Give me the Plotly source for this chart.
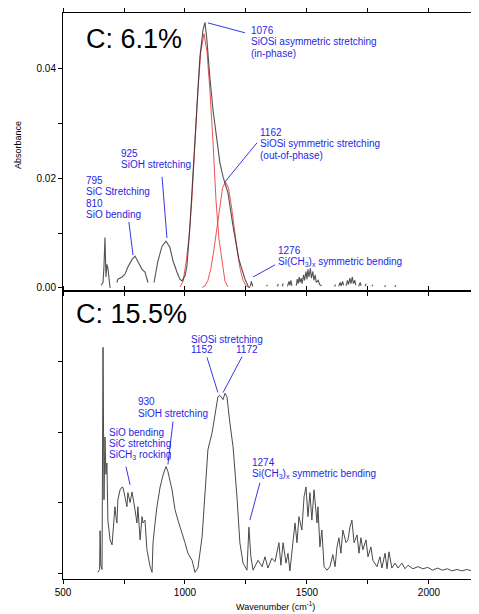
import plotly.graph_objects as go

# ---------------- DATA ----------------
# Top panel (C: 6.1 %) measured spectrum, wavenumber (cm-1) / absorbance; None = gap in trace
top_wn = [656, 664, 668, 672, 676, 680, 684, 690, 693, None,
          721, 725, 742, 754, 766, 783, 795, 807, 824, 836, 848, None,
          873, 889, 906, 922, 938, 951, 967, 979, 988, 1000, 1008, 1020, 1033, 1041, 1053, 1061, 1074,
          1082, 1090, 1094, 1102, 1115, 1131, 1143, 1156, 1176, 1197, 1221, 1246, 1258, 1266, None,
          1268, 1272, 1278, None,
          1334, 1338, None, 1378, 1383, None, 1398, 1403, None,
          1420, 1426, 1430, 1434, 1438, None,
          1456, 1460, 1464, 1468, 1472, 1476, 1480, 1486, 1490, 1496, 1500, 1504, 1508, 1514, 1518,
          1524, 1528, 1534, 1538, 1546, 1552, 1560, None,
          1612, 1618, None, 1630, 1636, 1640, 1646, 1650, None,
          1660, 1666, 1670, 1676, 1680, 1686, 1690, 1696, 1700, None,
          1712, 1718, 1722, None, 1738, 1742, None, 1766, 1770, None,
          1818, 1822, None, 1860, 1864]
top_abs = [0.0005, 0.001, 0.004, 0.0092, 0.002, 0.0043, 0.0036, 0.0008, 0.0, None,
           0.001, 0.0016, 0.002, 0.0025, 0.0038, 0.0052, 0.0058, 0.0049, 0.0034, 0.0029, 0.001, None,
           0.001, 0.0049, 0.0076, 0.0085, 0.0074, 0.0049, 0.0029, 0.0016, 0.0013, 0.0022, 0.004, 0.011,
           0.021, 0.027, 0.036, 0.042, 0.047,
           0.0483, 0.045, 0.042, 0.0383, 0.0323, 0.0264, 0.0228, 0.0202, 0.0173, 0.0112, 0.0052, 0.0016,
           0.0004, 0.0, None,
           0.0003, 0.0012, 0.0003, None,
           0.0003, 0.0006, None, 0.0003, 0.0007, None, 0.0003, 0.0008, None,
           0.0003, 0.0012, 0.0005, 0.0014, 0.0004, None,
           0.0004, 0.0016, 0.0008, 0.0020, 0.0010, 0.0018, 0.0008, 0.0024, 0.0014, 0.0030, 0.0016,
           0.0034, 0.0020, 0.0036, 0.0018, 0.0030, 0.0014, 0.0024, 0.0010, 0.0014, 0.0006, 0.0004, None,
           0.0003, 0.0006, None, 0.0003, 0.0010, 0.0004, 0.0012, 0.0005, None,
           0.0004, 0.0014, 0.0006, 0.0018, 0.0008, 0.0020, 0.0008, 0.0014, 0.0005, None,
           0.0003, 0.0010, 0.0004, None, 0.0003, 0.0008, None, 0.0003, 0.0006, None,
           0.0002, 0.0005, None, 0.0002, 0.0005]

# Fitted component at 1076 cm-1 (in-phase SiOSi)
fit1_wn = [980, 992, 1004, 1016, 1028, 1041, 1053, 1065, 1078, 1090, 1102, 1115, 1127, 1139, 1152, 1164, 1176]
fit1_abs = [0.0002, 0.0012, 0.0045, 0.009, 0.016, 0.0264, 0.036, 0.043, 0.0462, 0.043, 0.036, 0.0264,
            0.016, 0.009, 0.0045, 0.0012, 0.0002]

# Fitted component at 1162 cm-1 (out-of-phase SiOSi)
fit2_wn = [1070, 1082, 1094, 1106, 1118, 1130, 1142, 1154, 1166, 1178, 1190, 1202, 1214, 1226, 1238, 1250, 1262]
fit2_abs = [0.0001, 0.0004, 0.0014, 0.0035, 0.0068, 0.0108, 0.0150, 0.0182, 0.0193, 0.0182, 0.0150,
            0.0108, 0.0068, 0.0035, 0.0014, 0.0004, 0.0001]

# Bottom panel (C: 15.5 %) spectrum, arbitrary absorbance units
bot_wn = [643, 650, 652, 655, 660, 664, 668, 672, 676, 680, 684, 693, 701, 705, 713, 717, 721, 725,
          734, 742, 746, 754, 762, 766, 775, 783, 787, 795, 803, 807, 816, 824, 828, 836, 844, 852,
          857, 865, 869, 877, 885, 898, 910, 922, 930, 947, 959, 971, 988, 1000, 1012, 1029, 1041,
          1053, 1070, 1082, 1094, 1111, 1123, 1135, 1143, 1156, 1164, 1172, 1184, 1197, 1213, 1225,
          1238, 1254, 1262, 1270, 1279, 1299, 1316, 1328, 1340, 1356, 1369, 1385, 1393, 1402, 1414,
          1422, 1430, 1443, 1451, 1459, 1467, 1479, 1488, 1496, 1504, 1512, 1520, 1529, 1541, 1545,
          1553, 1561, 1570, 1582, 1594, 1606, 1615, 1623, 1631, 1639, 1647, 1660, 1668, 1676, 1684,
          1693, 1705, 1713, 1721, 1729, 1742, 1750, 1762, 1770, 1787, 1799, 1807, 1820, 1828, 1836,
          1848, 1861, 1873, 1889, 1902, 1914, 1934, 1955, 1975, 1995, 2015, 2035, 2055, 2075, 2095,
          2115, 2135, 2155, 2175, 2195, 2205]
bot_abs = [0.01, 0.05, 0.60, 0.10, 0.05, 3.20, 1.04, 1.93, 1.40, 1.56, 0.75, 0.47, 0.40, 0.61, 0.94,
           0.80, 0.71, 1.04, 1.18, 1.22, 1.21, 1.08, 0.94, 1.14, 1.00, 1.15, 1.08, 0.90, 0.71, 0.94,
           0.47, 0.80, 0.71, 0.75, 0.33, 0.15, 0.09, 0.01, 0.43, 0.70, 0.94, 1.22, 1.39, 1.51, 1.44,
           1.18, 0.90, 0.75, 0.57, 0.43, 0.28, 0.18, 0.01, 0.07, 0.51, 1.18, 1.75, 1.99, 2.28, 2.50,
           2.52, 2.46, 2.55, 2.50, 2.13, 1.79, 1.08, 0.43, 0.14, 0.04, 0.65, 0.23, 0.04, 0.18, 0.09,
           0.23, 0.07, 0.21, 0.16, 0.43, 0.11, 0.43, 0.14, 0.28, 0.03, 0.51, 0.71, 0.43, 0.80, 0.61,
           1.08, 1.22, 0.80, 1.14, 0.75, 1.18, 0.71, 0.94, 0.37, 0.61, 0.09, 0.04, 0.09, 0.26, 0.09,
           0.37, 0.50, 0.28, 0.61, 0.43, 0.47, 0.65, 0.75, 0.43, 0.54, 0.28, 0.50, 0.33, 0.47, 0.23,
           0.37, 0.18, 0.09, 0.23, 0.07, 0.28, 0.06, 0.30, 0.07, 0.14, 0.07, 0.14, 0.06, 0.11, 0.06,
           0.09, 0.06, 0.08, 0.04, 0.07, 0.04, 0.06, 0.03, 0.05, 0.03, 0.05, 0.03, 0.04, 0.03]

x_major = [500, 1000, 1500, 2000]
x_major_text = ["500", "1000", "1500", "2000"]
x_minor = [750, 1250, 1750]
top_major = [0.0, 0.02, 0.04]
top_major_text = ["0.00", "0.02", "0.04"]
top_minor = [0.01, 0.03]
bot_ticks = [0, 1, 2, 3]

# ---------------- FIGURE ----------------
FONT = "Liberation Sans, Arial, sans-serif"
BLUE = "#1f1fe6"

fig = go.Figure()
fig.add_trace(go.Scatter(x=fit1_wn, y=fit1_abs, mode="lines", line=dict(color="rgba(235,40,40,0.8)", width=1),
                         xaxis="x", yaxis="y", hoverinfo="skip"))
fig.add_trace(go.Scatter(x=fit2_wn, y=fit2_abs, mode="lines", line=dict(color="rgba(235,40,40,0.8)", width=1),
                         xaxis="x", yaxis="y", hoverinfo="skip"))
fig.add_trace(go.Scatter(x=top_wn, y=top_abs, mode="lines", connectgaps=False,
                         line=dict(color="rgba(40,40,40,0.8)", width=1.1), xaxis="x", yaxis="y"))
fig.add_trace(go.Scatter(x=bot_wn, y=bot_abs, mode="lines", line=dict(color="#4a4a4a", width=1),
                         xaxis="x2", yaxis="y2"))

split = 0.5088
axis_common = dict(showgrid=False, zeroline=False, showline=True, linecolor="black", linewidth=1,
                   ticks="outside", ticklen=4, tickcolor="black", tickfont=dict(family=FONT, size=10, color="black"))
minor_common = dict(ticks="outside", ticklen=4, tickcolor="black", showgrid=False)

# page body has an 8 px default margin: figure is sized to fit the 479x614 window
fig.update_layout(
    width=471, height=606, margin=dict(l=55, r=0, t=5, b=35),
    paper_bgcolor="white", plot_bgcolor="white", showlegend=False,
    font=dict(family=FONT, color="black"),
    xaxis=dict(domain=[0, 1], anchor="y", range=[500, 2205], tickmode="array", tickvals=x_major,
               showticklabels=False, mirror="ticks", minor=dict(tickvals=x_minor, **minor_common), **axis_common),
    yaxis=dict(domain=[split, 1], anchor="x", range=[-0.00055, 0.05], tickmode="array",
               tickvals=top_major, ticktext=top_major_text, mirror=False,
               minor=dict(tickvals=top_minor, **minor_common), **axis_common),
    xaxis2=dict(domain=[0, 1], anchor="y2", range=[500, 2205], tickmode="array", tickvals=x_major,
                ticktext=x_major_text, mirror="ticks", minor=dict(tickvals=x_minor, **minor_common), **axis_common),
    yaxis2=dict(domain=[0, split], anchor="x2", range=[-0.085, 4.0], tickmode="array",
                tickvals=bot_ticks, showticklabels=False, mirror=False, **axis_common),
)

annotations = []
shapes = []


def block(xr, yr, x, y, lines, size=10, color=BLUE, spacing=11.5):
    n = len(lines)
    for i, t in enumerate(lines):
        annotations.append(dict(xref=xr, yref=yr, x=x, y=y, text=t, showarrow=False,
                                xanchor="left", yanchor="middle", yshift=((n - 1) / 2 - i) * spacing,
                                font=dict(family=FONT, size=size, color=color)))


def leader(xr, yr, x0, y0, x1, y1):
    shapes.append(dict(type="line", xref=xr, yref=yr, x0=x0, y0=y0, x1=x1, y1=y1,
                       line=dict(color=BLUE, width=0.9)))


# top panel labels
block("x", "y", 584, 0.0453, ["C: 6.1%"], size=27, color="black")
block("x", "y", 1262, 0.0448, ["1076", "SiOSi asymmetric stretching", "(in-phase)"])
leader("x", "y", 1094, 0.0482, 1246, 0.0464)
block("x", "y", 1300, 0.0262, ["1162", "SiOSi symmetric stretching", "(out-of-phase)"])
leader("x", "y", 1295, 0.0264, 1164, 0.0193)
block("x", "y", 1373, 0.0058, ["1276", "Si(CH<sub>3</sub>)<sub>x</sub> symmetric bending"])
leader("x", "y", 1369, 0.0042, 1279, 0.0020)
block("x", "y", 730, 0.0235, ["925", "SiOH stretching"])
leader("x", "y", 906, 0.0202, 926, 0.0091)
block("x", "y", 586, 0.0165, ["795", "SiC Stretching", "810", "SiO bending"])
leader("x", "y", 770, 0.0120, 787, 0.0060)

# bottom panel labels
block("x2", "y2", 546, 3.67, ["C: 15.5%"], size=27, color="black")
block("x2", "y2", 1016, 3.31, ["SiOSi stretching"])
block("x2", "y2", 1016, 3.17, ["1152"])
block("x2", "y2", 1201, 3.17, ["1172"])
leader("x2", "y2", 1090, 3.06, 1135, 2.56)
leader("x2", "y2", 1234, 3.07, 1156, 2.56)
block("x2", "y2", 799, 2.35, ["930", "SiOH stretching"])
leader("x2", "y2", 951, 2.15, 930, 1.54)
block("x2", "y2", 680, 1.83, ["SiO bending", "SiC stretching", "SiCH<sub>3</sub> rocking"])
leader("x2", "y2", 758, 1.51, 775, 1.25)
block("x2", "y2", 1266, 1.49, ["1274", "Si(CH<sub>3</sub>)<sub>x</sub> symmetric bending"])
leader("x2", "y2", 1307, 1.28, 1266, 0.75)

# axis titles
annotations.append(dict(xref="paper", yref="paper", x=-0.108, y=0.767, text="Absorbance", showarrow=False,
                        textangle=-90, xanchor="center", yanchor="middle",
                        font=dict(family=FONT, size=9, color="black")))
annotations.append(dict(xref="paper", yref="paper", x=0.51, y=-0.048, text="Wavenumber (cm<sup>-1</sup>)",
                        showarrow=False, xanchor="center", yanchor="middle",
                        font=dict(family=FONT, size=9, color="black")))

fig.update_layout(annotations=annotations, shapes=shapes)
fig.write_html("out.html")
